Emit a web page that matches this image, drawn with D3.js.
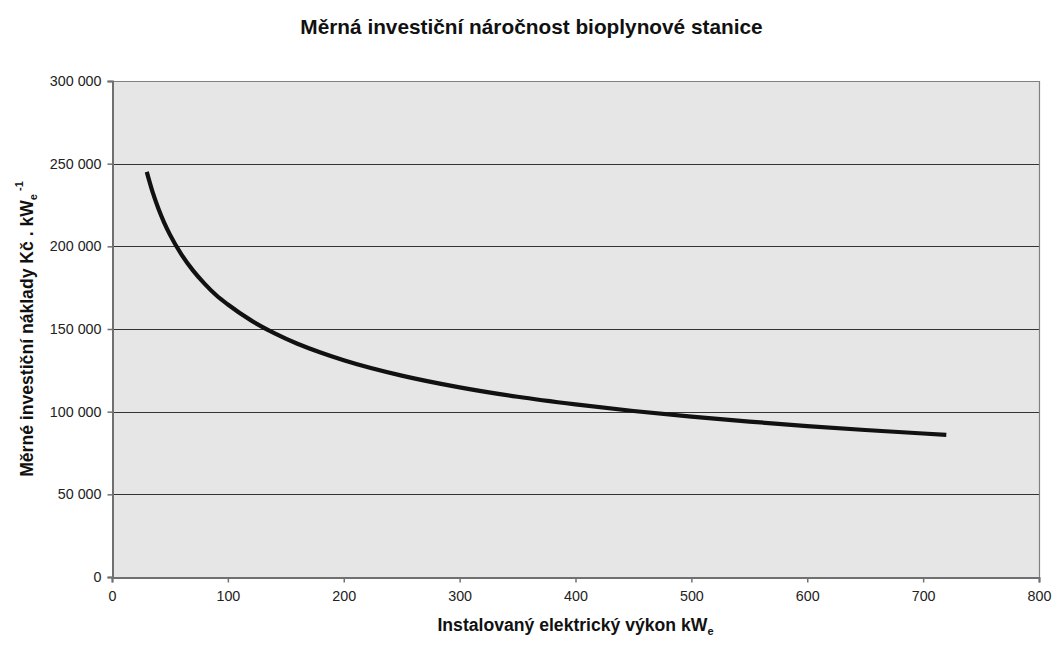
<!DOCTYPE html>
<html>
<head>
<meta charset="utf-8">
<script src="https://cdn.jsdelivr.net/npm/d3@7"></script>
<style>
  body { margin: 0; background: #fff; }
  svg { display: block; font-family: "Liberation Sans", Arial, sans-serif; }
</style>
</head>
<body>
<svg id="chart" width="1063" height="660"></svg>
<script>
// Data
const powerKW = [30, 35, 40, 45, 50, 60, 70, 80, 90, 100, 120, 140, 160, 180, 200, 250, 300, 350, 400, 450, 500, 550, 600, 650, 700, 720];
const costPerKW = [245000, 232900, 222900, 214400, 207100, 195000, 185300, 177300, 170400, 164800, 155200, 147500, 141100, 135800, 131100, 121800, 114700, 109000, 104400, 100400, 97000, 94000, 91300, 88900, 86800, 86000];
const xTicks = [0, 100, 200, 300, 400, 500, 600, 700, 800];
const yTicks = [0, 50000, 100000, 150000, 200000, 250000, 300000];
const titleText = "Měrná investiční náročnost bioplynové stanice";

const svg = d3.select("#chart");
const margin = { left: 112, right: 24, top: 81, bottom: 83 };
const W = 1063, H = 660;
const x = d3.scaleLinear().domain([0, 800]).range([margin.left, W - margin.right]);
const y = d3.scaleLinear().domain([0, 300000]).range([H - margin.bottom, margin.top]);

const fmt = v => d3.format(",")(v).replace(/,/g, " ");

// plot background
svg.append("rect")
  .attr("x", x(0)).attr("y", y(300000))
  .attr("width", x(800) - x(0)).attr("height", y(0) - y(300000))
  .attr("fill", "#e6e6e6");

// gridlines
svg.append("g").selectAll("line")
  .data(yTicks.filter(d => d > 0 && d < 300000))
  .join("line")
  .attr("x1", x(0)).attr("x2", x(800))
  .attr("y1", d => Math.round(y(d)) + 0.5).attr("y2", d => Math.round(y(d)) + 0.5)
  .attr("stroke", "#333").attr("stroke-width", 1.2);

// top and right border
svg.append("line").attr("x1", x(0)).attr("x2", x(800))
  .attr("y1", Math.round(y(300000)) + 0.5).attr("y2", Math.round(y(300000)) + 0.5)
  .attr("stroke", "#808080").attr("stroke-width", 1.2);
svg.append("line").attr("x1", x(800) + 0.5).attr("x2", x(800) + 0.5)
  .attr("y1", y(300000)).attr("y2", y(0))
  .attr("stroke", "#808080").attr("stroke-width", 1.2);

// axes
const xAxis = d3.axisBottom(x).tickValues(xTicks).tickSize(5).tickPadding(8).tickFormat(d3.format("d"));
const yAxis = d3.axisLeft(y).tickValues(yTicks).tickSize(5).tickPadding(6).tickFormat(fmt);

const gx = svg.append("g").attr("transform", `translate(0,${Math.round(y(0)) + 0.5})`).call(xAxis);
const gy = svg.append("g").attr("transform", `translate(${Math.round(x(0)) + 0.5},0)`).call(yAxis);
[gx, gy].forEach(g => {
  g.select(".domain").attr("stroke", "#707070").attr("stroke-width", 2);
  g.selectAll(".tick line").attr("stroke", "#707070").attr("stroke-width", 1.5);
  g.selectAll(".tick text").attr("fill", "#222").attr("font-size", 14.3)
    .attr("font-family", "'Liberation Sans', Arial, sans-serif");
});

// curve
const line = d3.line()
  .x((d, i) => x(powerKW[i]))
  .y(d => y(d))
  .curve(d3.curveMonotoneX);
svg.append("path")
  .datum(costPerKW)
  .attr("d", line)
  .attr("fill", "none")
  .attr("stroke", "#111")
  .attr("stroke-width", 4.2);

// title
svg.append("text")
  .attr("x", W / 2).attr("y", 34)
  .attr("text-anchor", "middle")
  .attr("font-size", 20.8).attr("font-weight", "bold").attr("fill", "#111")
  .text(titleText);

// x axis title
const xt = svg.append("text")
  .attr("x", (x(0) + x(800)) / 2).attr("y", 631)
  .attr("text-anchor", "middle")
  .attr("font-size", 17.6).attr("font-weight", "bold").attr("fill", "#111");
xt.append("tspan").text("Instalovaný elektrický výkon kW");
xt.append("tspan").attr("font-size", 11).attr("dy", 4).text("e");

// y axis title
const yt = svg.append("text")
  .attr("transform", `translate(33,${(y(0) + y(300000)) / 2}) rotate(-90)`)
  .attr("text-anchor", "middle")
  .attr("font-size", 17.6).attr("font-weight", "bold").attr("fill", "#111");
yt.append("tspan").text("Měrné investiční náklady Kč . kW");
yt.append("tspan").attr("font-size", 11).attr("dy", 4).text("e");
yt.append("tspan").attr("font-size", 11).attr("dy", -14).text(" -1");
</script>
</body>
</html>
